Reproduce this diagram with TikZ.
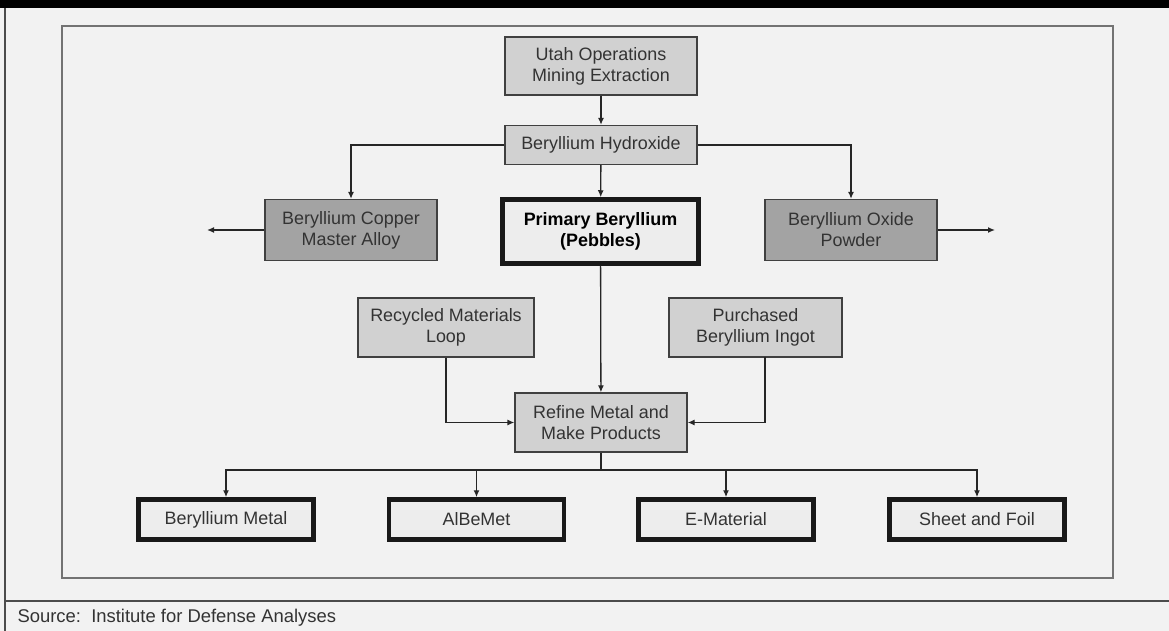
\documentclass[tikz,border=0pt]{standalone}
\usepackage{fontspec}
\setmainfont{Liberation Sans}
\usetikzlibrary{arrows.meta}
\definecolor{bgcol}{gray}{0.95}
\definecolor{boxlight}{gray}{0.82}
\definecolor{boxdark}{gray}{0.64}
\definecolor{boxwhite}{gray}{0.93}
\definecolor{txt}{gray}{0.2}
\begin{document}
\begin{tikzpicture}[x=1bp,y=-1bp,
  box/.style={draw=black!75, line width=1.3bp, fill=boxlight, text=txt, align=center, inner sep=0pt,
    font=\fontsize{18}{21}\selectfont},
  darkbox/.style={box, fill=boxdark},
  thickbox/.style={box, fill=boxwhite, line width=4.5bp, draw=black!90},
  arr/.style={draw=black!85, line width=1.3bp, -{Latex[length=7bp,width=6bp]}},
  ln/.style={draw=black!85, line width=1.3bp}]
\useasboundingbox (0,0) rectangle (1169,631);
\fill[bgcol] (0,0) rectangle (1169,631);
\fill[black] (0,0) rectangle (1169,8);
\draw[black!70, line width=1.5bp] (5,8) -- (5,631);
\draw[black!70, line width=1.5bp] (5,601) -- (1169,601);
\draw[black!55, line width=1.6bp] (62,26) rectangle (1113,578);

\node[box, minimum width=192bp, minimum height=58bp] (utah) at (601,66) {Utah Operations\\Mining Extraction};
\node[box, minimum width=192bp, minimum height=39bp] (hyd) at (601,145) {Beryllium Hydroxide};
\node[darkbox, minimum width=172bp, minimum height=61bp] (becu) at (351,230) {Beryllium Copper\\Master Alloy};
\node[thickbox, minimum width=196bp, minimum height=64bp, font=\fontsize{18}{21}\selectfont\bfseries, text=black] (prim) at (600.5,231.5) {Primary Beryllium\\(Pebbles)};
\node[darkbox, minimum width=172bp, minimum height=61bp] (beo) at (851,230) {Beryllium Oxide\\Powder};
\node[box, minimum width=176bp, minimum height=59bp] (rec) at (446,327.5) {Recycled Materials\\Loop};
\node[box, minimum width=173bp, minimum height=59bp] (pur) at (755.5,327.5) {Purchased\\Beryllium Ingot};
\node[box, minimum width=172bp, minimum height=59bp] (ref) at (601,422.5) {Refine Metal and\\Make Products};
\node[thickbox, minimum width=175bp, minimum height=40bp] (bm) at (226,519.5) {Beryllium Metal};
\node[thickbox, minimum width=175bp, minimum height=40bp] (ab) at (476.5,519.5) {AlBeMet};
\node[thickbox, minimum width=175bp, minimum height=40bp] (em) at (726,519.5) {E-Material};
\node[thickbox, minimum width=175bp, minimum height=40bp] (sf) at (977,519.5) {Sheet and Foil};

\node[anchor=west, text=txt, font=\fontsize{18.5}{21}\selectfont] (src) at (14,618) {Source:\ \ Institute for Defense Analyses};

\coordinate (lout) at (207,230);
\coordinate (rout) at (995,230);
\coordinate (bus) at (601,470);
\coordinate (purdrop) at (765,357);

\draw[arr] (utah) -- (hyd);
\draw[arr] (hyd.west) -| (becu.north);
\draw[arr] (hyd.east) -| (beo.north);
\draw[arr] (hyd) -- (prim);
\draw[arr] (becu.west) -- (lout);
\draw[arr] (beo.east) -- (rout);
\draw[arr] (prim) -- (ref);
\draw[arr] (rec.south) |- (ref.west);
\draw[arr] (purdrop) |- (ref.east);
\draw[ln] (ref.south) -- (bus);
\draw[arr] (bus) -| (bm.north);
\draw[arr] (bus) -| (ab.north);
\draw[arr] (bus) -| (em.north);
\draw[arr] (bus) -| (sf.north);
\end{tikzpicture}
\end{document}
